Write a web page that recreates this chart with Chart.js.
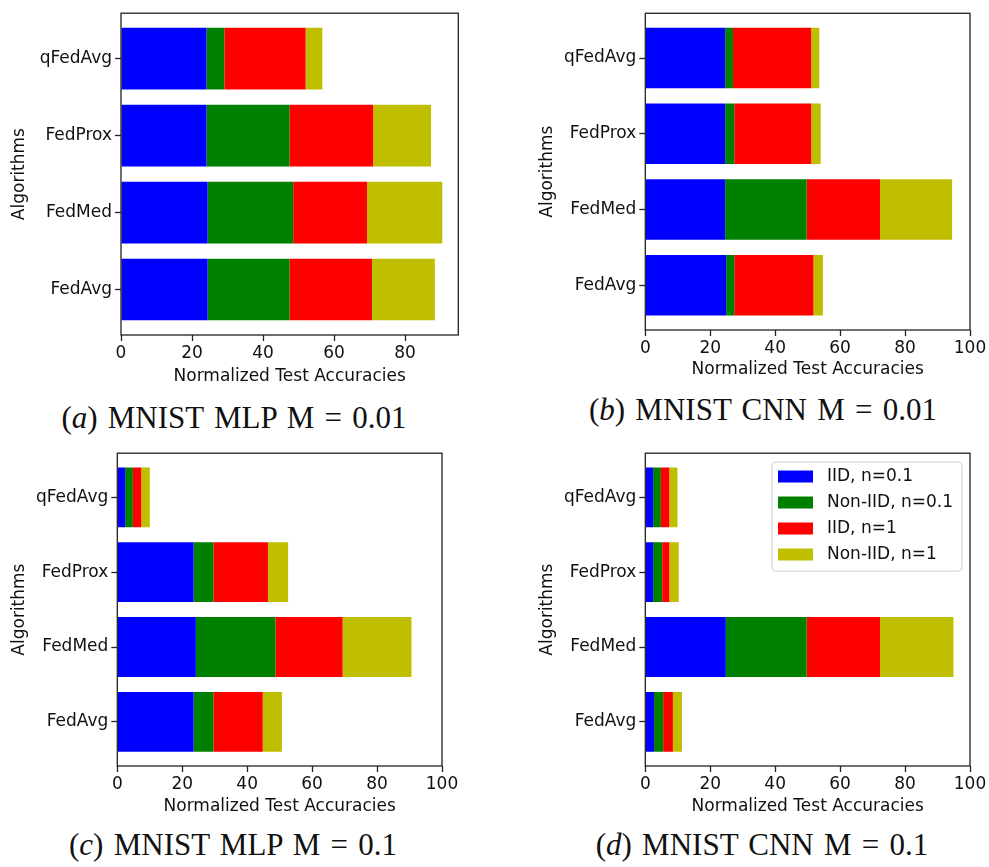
<!DOCTYPE html>
<html>
<head>
<meta charset="utf-8">
<title>Normalized Test Accuracies</title>
<script src="https://cdn.jsdelivr.net/npm/chart.js"></script>
<style>
  body { margin: 0; background: #fff; }
  #pagina { position: relative; width: 989px; height: 867px; overflow: hidden; }
  .painel { position: absolute; }
  .legenda_fig {
    position: absolute;
    width: 500px;
    text-align: center;
    font-family: "Liberation Serif", serif;
    font-size: 31px;
    line-height: 31px;
    word-spacing: 2.5px;
    color: #111;
    white-space: nowrap;
  }
</style>
</head>
<body>
<div id="pagina">
  <div class="painel" style="left:0;top:0;width:470px;height:388px"><canvas id="graf_a"></canvas></div>
  <div class="painel" style="left:528px;top:0;width:461px;height:383px"><canvas id="graf_b"></canvas></div>
  <div class="painel" style="left:0;top:440px;width:470px;height:379px"><canvas id="graf_c"></canvas></div>
  <div class="painel" style="left:528px;top:440px;width:461px;height:379px"><canvas id="graf_d"></canvas></div>

  <div class="legenda_fig" style="left:-16px;top:402px">(<i>a</i>) MNIST MLP M = 0.01</div>
  <div class="legenda_fig" style="left:513px;top:394px">(<i>b</i>) MNIST CNN M = 0.01</div>
  <div class="legenda_fig" style="left:-17px;top:829px">(<i>c</i>) MNIST MLP M = 0.1</div>
  <div class="legenda_fig" style="left:512px;top:829px">(<i>d</i>) MNIST CNN M = 0.1</div>
</div>

<script>
//categorias de baixo para cima, como no barh
const algoritmos = ["FedAvg", "FedMed", "FedProx", "qFedAvg"];
const series = ["IID, n=0.1", "Non-IID, n=0.1", "IID, n=1", "Non-IID, n=1"];
const ticks_x = [0, 20, 40, 60, 80, 100];

//MNIST MLP M = 0.01
const mlp001_iid01 = [24.4, 24.4, 24.1, 24.1];
const mlp001_noniid01 = [23.1, 24.1, 23.4, 5.0];
const mlp001_iid1 = [23.2, 20.8, 23.5, 22.9];
const mlp001_noniid1 = [17.7, 21.2, 16.3, 4.7];

//MNIST CNN M = 0.01
const cnn001_iid01 = [24.9, 24.6, 24.6, 24.6];
const cnn001_noniid01 = [2.5, 25.1, 2.8, 2.4];
const cnn001_iid1 = [24.4, 22.6, 23.7, 24.1];
const cnn001_noniid1 = [2.9, 22.2, 2.9, 2.5];

//MNIST MLP M = 0.1
const mlp01_iid01 = [23.5, 24.2, 23.5, 2.4];
const mlp01_noniid01 = [6.1, 24.5, 6.1, 2.4];
const mlp01_iid1 = [15.2, 20.7, 16.8, 2.6];
const mlp01_noniid1 = [5.9, 21.2, 6.2, 2.6];

//MNIST CNN M = 0.1
const cnn01_iid01 = [2.7, 24.8, 2.4, 2.4];
const cnn01_noniid01 = [2.8, 24.9, 2.8, 2.4];
const cnn01_iid1 = [3.0, 22.6, 2.2, 2.6];
const cnn01_noniid1 = [2.8, 22.6, 2.9, 2.5];

const cores = ["#0000ff", "#008000", "#ff0000", "#bfbf00"];

Chart.defaults.font.family = "'DejaVu Sans', sans-serif";
Chart.defaults.font.size = 17;
Chart.defaults.color = "#111";

//moldura preta em volta da area do grafico
const moldura = {
  id: "moldura",
  afterDatasetsDraw(chart) {
    const { ctx, chartArea: a } = chart;
    ctx.save();
    ctx.strokeStyle = "#222";
    ctx.lineWidth = 1.3;
    ctx.strokeRect(a.left, a.top, a.right - a.left, a.bottom - a.top);
    ctx.restore();
  },
};

//legenda dentro do grafico, canto superior direito
const legenda_quadro = {
  id: "legenda_quadro",
  afterDraw(chart, args, opts) {
    if (!opts.mostrar) return;
    const { ctx, chartArea: a } = chart;
    const ds = chart.data.datasets;

    ctx.save();
    ctx.font = "17px 'DejaVu Sans'";
    const larg_texto = Math.max(...ds.map((d) => ctx.measureText(d.label).width));
    const larg = 6 + 35 + 14 + larg_texto + 9;
    const alt = 109;
    const x0 = a.right - 8 - larg;
    const y0 = a.top + 9;

    ctx.beginPath();
    if (ctx.roundRect) ctx.roundRect(x0, y0, larg, alt, 4);
    else ctx.rect(x0, y0, larg, alt);
    ctx.fillStyle = "rgba(255, 255, 255, 0.8)";
    ctx.fill();
    ctx.strokeStyle = "#d6d6d6";
    ctx.lineWidth = 1.3;
    ctx.stroke();

    ctx.textBaseline = "middle";
    ds.forEach((d, i) => {
      const cy = y0 + 14.3 + i * 26;
      ctx.fillStyle = d.backgroundColor;
      ctx.fillRect(x0 + 6, cy - 6, 35, 12);
      ctx.fillStyle = "#111";
      ctx.fillText(d.label, x0 + 55, cy);
    });
    ctx.restore();
  },
};

const grade = {
  display: true,
  offset: false,
  drawOnChartArea: false,
  drawTicks: true,
  tickLength: 6,
  tickColor: "#222",
  tickWidth: 1.3,
};

function criarGrafico(id, dados, xmax, caixa, comLegenda) {
  return new Chart(document.getElementById(id), {
    type: "bar",

    data: {
      datasets: dados.map((valores, i) => ({
        label: series[i],
        data: valores.map((v, j) => ({ x: v, y: j })),
        backgroundColor: cores[i],
        borderWidth: 0,
        barPercentage: 0.8,
        categoryPercentage: 1,
      })),
    },

    options: {
      indexAxis: "y",
      responsive: true,
      maintainAspectRatio: false,
      animation: false,

      layout: {
        padding: { top: caixa.topo, right: caixa.direita, left: 0, bottom: 0 },
      },

      plugins: {
        legend: { display: false },
        tooltip: { enabled: false },
        legenda_quadro: { mostrar: comLegenda },
      },

      scales: {
        x: {
          type: "linear",
          stacked: true,
          offset: false,
          min: 0,
          max: xmax,
          afterBuildTicks: (s) => {
            s.ticks = ticks_x.filter((t) => t <= xmax).map((v) => ({ value: v }));
          },
          afterFit: (s) => {
            s.height = 53;
          },
          grid: grade,
          border: { display: false },
          ticks: { padding: 2 },
          title: {
            display: true,
            text: "Normalized Test Accuracies",
            padding: { top: 0, bottom: caixa.tituloX },
          },
        },

        y: {
          type: "linear",
          stacked: true,
          offset: false,
          min: -0.59,
          max: 3.59,
          afterBuildTicks: (s) => {
            s.ticks = algoritmos.map((_, i) => ({ value: i }));
          },
          afterFit: (s) => {
            s.width = caixa.eixoY;
          },
          grid: grade,
          border: { display: false },
          ticks: {
            padding: 3,
            callback: (v) => algoritmos[v],
          },
          title: {
            display: true,
            text: "Algorithms",
            padding: { top: 9, bottom: 0 },
          },
        },
      },
    },

    plugins: [moldura, legenda_quadro],
  });
}

criarGrafico("graf_a", [mlp001_iid01, mlp001_noniid01, mlp001_iid1, mlp001_noniid1], 95,
  { topo: 7.3, direita: 11.7, eixoY: 121, tituloX: 0.8 }, false);

criarGrafico("graf_b", [cnn001_iid01, cnn001_noniid01, cnn001_iid1, cnn001_noniid1], 100,
  { topo: 13.3, direita: 19, eixoY: 117.3, tituloX: 3.1 }, false);

criarGrafico("graf_c", [mlp01_iid01, mlp01_noniid01, mlp01_iid1, mlp01_noniid1], 100,
  { topo: 10, direita: 28, eixoY: 117.3, tituloX: 2.5 }, false);

criarGrafico("graf_d", [cnn01_iid01, cnn01_noniid01, cnn01_iid1, cnn01_noniid1], 100,
  { topo: 10, direita: 19, eixoY: 117.3, tituloX: 2.5 }, true);
</script>
</body>
</html>
